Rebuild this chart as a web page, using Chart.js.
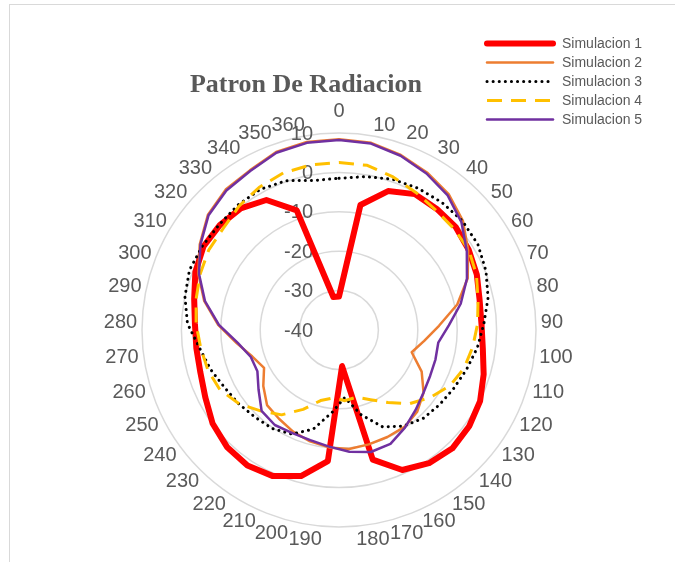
<!DOCTYPE html>
<html>
<head>
<meta charset="utf-8">
<script src="https://cdn.jsdelivr.net/npm/chart.js@4.4.1/dist/chart.umd.min.js"></script>
<style>
  html, body { margin: 0; padding: 0; background: #ffffff; }
  #wrap { width: 675px; height: 562px; position: relative; }
</style>
</head>
<body>
<div id="wrap"><canvas id="c" width="675" height="562"></canvas></div>
<script>
// ---- data ----
const categories = ['0','10','20','30','40','50','60','70','80','90','100','110','120','130','140','150','160','170','180',
                    '190','200','210','220','230','240','250','260','270','280','290','300','310','320','330','340','350','360'];
const tickValues = [-40, -30, -20, -10, 0, 10];
const seriesNames = ['Simulacion 1', 'Simulacion 2', 'Simulacion 3', 'Simulacion 4', 'Simulacion 5'];

const sim1 = [-31.5, -7.8, -2.6, -0.5, -0.5, -0.5, -1.3, -2.3, -3.5, -3.8, -3.2, -1.6, 0.1, 1.1, 1.6, 0.8, -1.0, -6.0, -30.8,
              -6.6, -1.7, 0.7, 1.5, 1.1, -0.1, -2.0, -3.2, -3.5, -3.4, -2.4, -0.7, 0.4, 0.3, -0.3, -2.2, -7.8, -31.5];
const sim2 = [8.4, 8.2, 7.1, 5.8, 4.3, 1.9, -1.5, -4.8, -9.3, -14.6, -18.2, -20.7, -16.5, -13.3, -11.3, -10.3, -10.2, -10.0, -9.7,
              -10.1, -10.8, -11.7, -12.8, -13.6, -16.1, -18.7, -17.0, -13.8, -9.3, -5.0, -1.5, 1.5, 4.3, 5.8, 6.4, 7.9, 8.4];
const sim3 = [-1.5, -0.5, 0.6, 1.2, 1.6, 1.8, 1.4, 0.2, -1.3, -3.2, -4.6, -6.1, -7.3, -8.2, -9.0, -10.6, -13.0, -17.8, -22.8,
              -19.0, -14.0, -11.0, -9.8, -9.3, -8.4, -7.5, -5.9, -4.3, -1.5, 0.0, 0.9, 0.7, 0.5, 0.8, 0.9, 0.2, -1.5];
const sim4 = [2.5, 2.4, 1.2, 0.0, -0.9, -1.1, -1.3, -2.4, -3.9, -4.8, -5.8, -6.8, -8.5, -11.2, -14.1, -17.8, -20.6, -22.4, -22.0,
              -22.7, -21.5, -17.9, -14.0, -11.5, -8.5, -6.2, -5.2, -4.6, -3.7, -2.9, -2.0, -1.2, -0.9, 0.4, 1.5, 2.3, 2.5];
const sim5 = [8.2, 8.0, 6.9, 5.5, 3.9, 1.4, -1.9, -5.0, -8.4, -12.1, -14.6, -14.4, -14.1, -13.3, -11.9, -10.1, -8.3, -8.0, -9.0,
              -10.3, -11.1, -11.3, -10.9, -11.6, -14.6, -16.8, -16.6, -14.1, -9.5, -5.2, -1.7, 1.3, 4.1, 5.5, 6.2, 7.7, 8.2];

// ---- styles ----
const styles = [
  { color: '#FF0000', width: 6,   dash: [],        cap: 'round' },
  { color: '#ED7D31', width: 2.5, dash: [],        cap: 'round' },
  { color: '#000000', width: 3,   dash: [0.1, 6],  cap: 'round' },
  { color: '#FFC000', width: 3,   dash: [15, 9],   cap: 'butt'  },
  { color: '#7030A0', width: 2.5, dash: [],        cap: 'round' }
];
const allSeries = [sim1, sim2, sim3, sim4, sim5];

const datasets = allSeries.map((vals, i) => ({
  label: seriesNames[i],
  data: vals,
  borderColor: styles[i].color,
  backgroundColor: 'transparent',
  borderWidth: styles[i].width,
  borderDash: styles[i].dash,
  borderCapStyle: styles[i].cap,
  borderJoinStyle: 'round',
  fill: false,
  pointRadius: 0,
  pointHoverRadius: 0,
  tension: 0,
  order: allSeries.length - i
}));

const TEXT = '#595959';

const decor = {
  id: 'decor',
  beforeDraw(chart) {
    const ctx = chart.ctx;
    ctx.save();
    ctx.fillStyle = '#ffffff';
    ctx.fillRect(0, 0, chart.width, chart.height);
    ctx.strokeStyle = '#d9d9d9';
    ctx.lineWidth = 1;
    ctx.strokeRect(9.5, 4.5, 900, 900);
    ctx.restore();
  },
  beforeDatasetsDraw(chart) {
    const ctx = chart.ctx;
    const s = chart.scales.r;
    ctx.save();
    ctx.fillStyle = TEXT;
    ctx.font = '20px "Liberation Sans", Arial, sans-serif';
    // value axis labels, left of the vertical axis
    ctx.textAlign = 'right';
    ctx.textBaseline = 'middle';
    tickValues.forEach(v => {
      const d = s.getDistanceFromCenterForValue(v);
      ctx.fillText(String(v), s.xCenter - 26, s.yCenter - d + 1);
    });
    // category labels around the circle
    categories.forEach((c, i) => {
      const p = s.getPointPosition(i, s.drawingArea + 5);
      const a = p.angle + Math.PI / 2;
      const sn = Math.sin(a), cs = Math.cos(a);
      ctx.textAlign = sn > 0.05 ? 'left' : (sn < -0.05 ? 'right' : 'center');
      ctx.textBaseline = 'middle';
      let dy = -7 * cs;
      if (ctx.textAlign === 'center' && cs > 0) dy = -18;
      ctx.fillText(c, p.x, p.y + dy + 1);
    });
    ctx.restore();
  },
  afterDraw(chart) {
    const ctx = chart.ctx;
    ctx.save();
    // title
    ctx.fillStyle = TEXT;
    ctx.font = 'bold 26px "Liberation Serif", "Times New Roman", serif';
    ctx.textAlign = 'center';
    ctx.textBaseline = 'alphabetic';
    ctx.fillText('Patron De Radiacion', 306, 92);
    // legend
    ctx.font = '14px "Liberation Sans", Arial, sans-serif';
    ctx.textAlign = 'left';
    ctx.textBaseline = 'middle';
    seriesNames.forEach((name, i) => {
      const y = 43.5 + i * 19;
      const st = styles[i];
      ctx.beginPath();
      ctx.strokeStyle = st.color;
      ctx.lineWidth = st.width;
      ctx.lineCap = st.cap;
      ctx.setLineDash(st.dash);
      ctx.moveTo(487, y);
      ctx.lineTo(553, y);
      ctx.stroke();
      ctx.setLineDash([]);
      ctx.fillStyle = TEXT;
      ctx.fillText(name, 562, y + 0.5);
    });
    ctx.restore();
  }
};

new Chart(document.getElementById('c'), {
  type: 'radar',
  data: { labels: categories, datasets: datasets },
  options: {
    responsive: false,
    animation: false,
    devicePixelRatio: 1,
    layout: { padding: { left: 142, right: 139, top: 133, bottom: 35 } },
    plugins: {
      legend: { display: false },
      title: { display: false },
      tooltip: { enabled: false }
    },
    elements: { line: { tension: 0 } },
    scales: {
      r: {
        min: -40,
        max: 10,
        startAngle: 0,
        ticks: { stepSize: 10, display: false },
        pointLabels: { display: false },
        angleLines: { display: false },
        grid: { circular: true, color: '#d9d9d9', lineWidth: 1.5 }
      }
    }
  },
  plugins: [decor]
});
</script>
</body>
</html>
